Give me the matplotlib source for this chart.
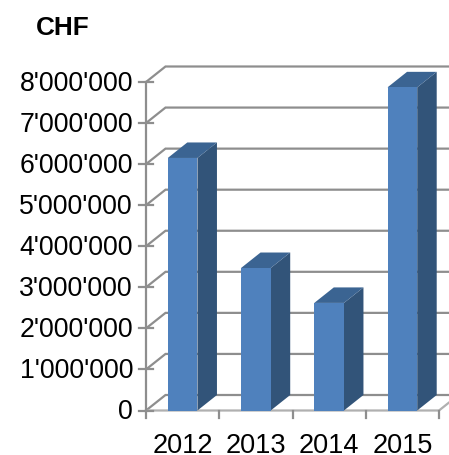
import matplotlib
matplotlib.use('Agg')
import matplotlib.pyplot as plt
from matplotlib.patches import Polygon

years = ['2012', '2013', '2014', '2015']
values = [6150000, 3470000, 2620000, 7870000]
y_ticks = [0, 1000000, 2000000, 3000000, 4000000, 5000000, 6000000, 7000000, 8000000]
y_labels = ['0', "1'000'000", "2'000'000", "3'000'000", "4'000'000",
            "5'000'000", "6'000'000", "7'000'000", "8'000'000"]

plt.rcParams['font.family'] = ['Liberation Sans', 'DejaVu Sans']

W, H = 449, 456
left, right, top, bottom = 146, 439, 83, 411.5

fig = plt.figure(figsize=(W / 100, H / 100), dpi=100)
ax = fig.add_axes([left / W, 1 - bottom / H, (right - left) / W, (bottom - top) / H])
ax.set_xlim(0, len(years))
ax.set_ylim(0, 8000000)
ax.axis('off')

# depth of the fake 3d box, in data units
depth_x = 19.5 / ((right - left) / len(years))
depth_y = 15.5 / ((bottom - top) / 8000000)

grid_color = '#8e8e8e'
front_color = '#4f81bd'
side_color = '#325479'
top_color = '#3b6492'
bar_w = 0.405

# gridlines on back wall and on the left wall
for v in y_ticks:
    ax.plot([0, depth_x, len(years) + depth_x], [v, v + depth_y, v + depth_y],
            color=grid_color, lw=1.6, clip_on=False, zorder=1,
            solid_joinstyle='miter')

# front floor edge and left axis
ax.plot([0, len(years), len(years) + depth_x], [0, 0, depth_y],
        color='#b0b0b0', lw=1.6, clip_on=False, zorder=1)
ax.plot([0, 0], [0, 8000000], color=grid_color, lw=1.6, clip_on=False, zorder=1)

# tick marks
for v in y_ticks:
    ax.plot([-7 / 73.25, 7 / 73.25], [v, v], color=grid_color, lw=1.6, clip_on=False, zorder=1)
for i in range(len(years) + 1):
    ax.plot([i, i], [0, -190000], color=grid_color, lw=1.6, clip_on=False, zorder=1)

# bars
for i, val in enumerate(values):
    x0 = i + 0.5 - bar_w / 2
    x1 = i + 0.5 + bar_w / 2
    ax.add_patch(Polygon([(x1, 0), (x1 + depth_x, depth_y), (x1 + depth_x, val + depth_y), (x1, val)],
                         closed=True, fc=side_color, ec='none', clip_on=False, zorder=3))
    ax.add_patch(Polygon([(x0, val), (x1, val), (x1 + depth_x, val + depth_y), (x0 + depth_x, val + depth_y)],
                         closed=True, fc=top_color, ec='none', clip_on=False, zorder=3))
    ax.bar(i + 0.5, val, width=bar_w, color=front_color, clip_on=False, zorder=4)

# labels
for v, lab in zip(y_ticks, y_labels):
    ax.text(-13 / 73.25, v - 24000, lab, ha='right', va='center', fontsize=19.2, color='black')
for i, yr in enumerate(years):
    ax.text(i + 0.5, -852000, yr, ha='center', va='center', fontsize=19.5, color='black')

fig.text(36 / W, 1 - 28 / H, 'CHF', fontsize=18.8, fontweight='bold', ha='left', va='center')

fig.savefig('out.png', dpi=100)
plt.close()
